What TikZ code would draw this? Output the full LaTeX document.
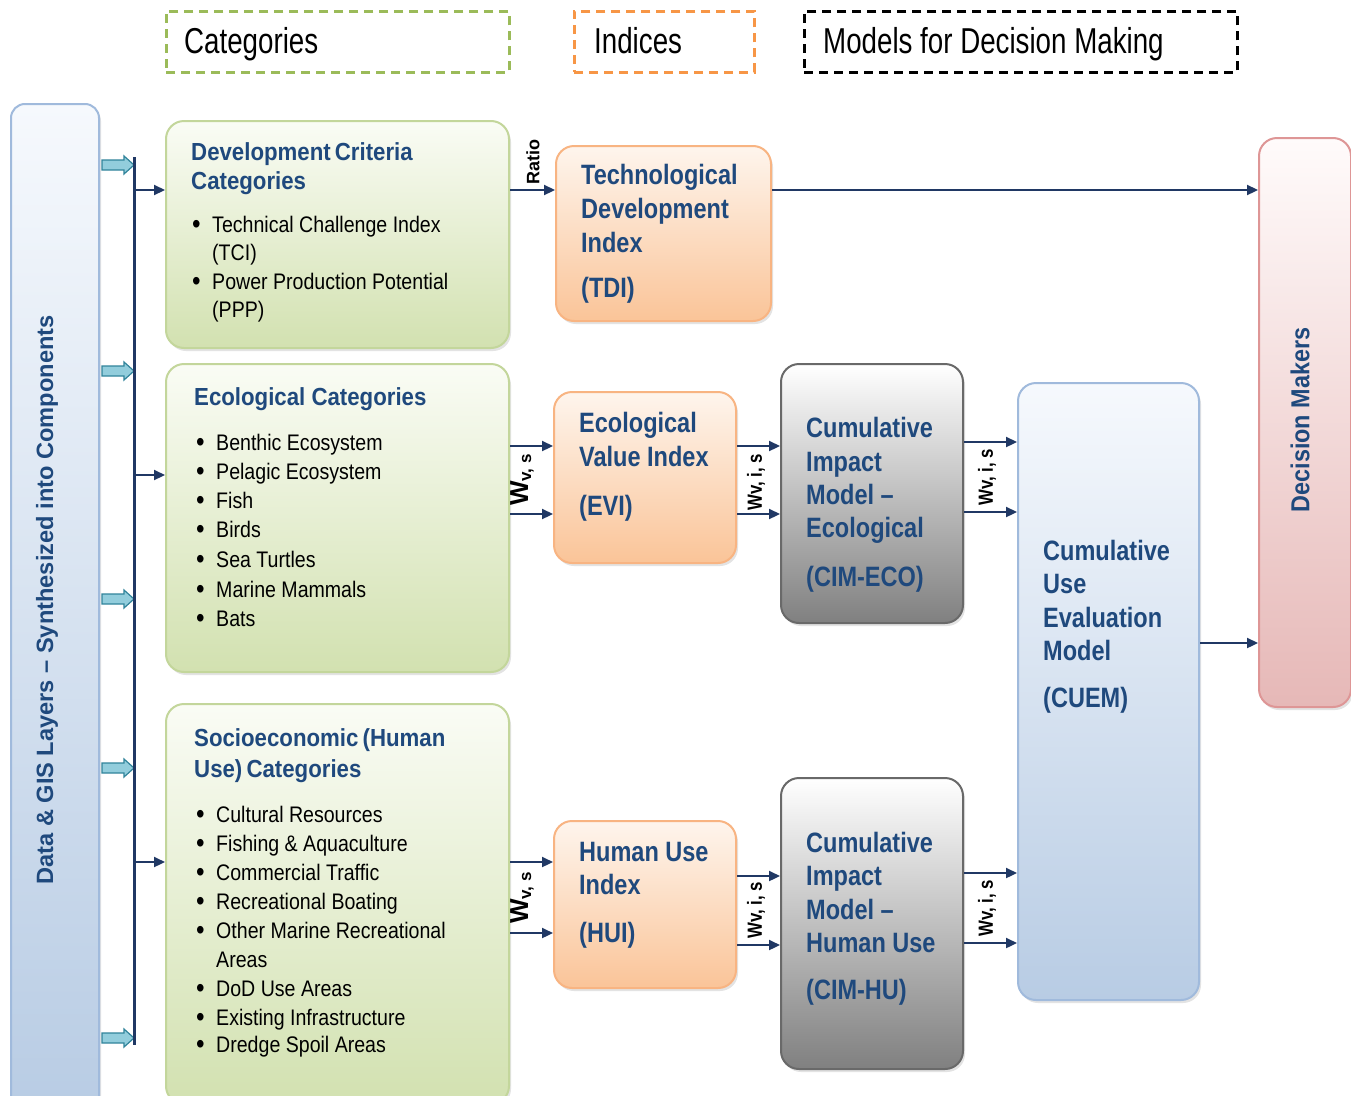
\documentclass[tikz,border=0pt]{standalone}
\usepackage{fontspec}
\setmainfont{Liberation Sans}[FakeStretch=0.82]
\newfontfamily\hdrfont{Liberation Sans}[FakeStretch=0.77]
\newfontfamily\bodyfont{Liberation Sans}[FakeStretch=0.87]
\newfontfamily\ttlfont{Liberation Sans}[FakeStretch=0.9]
\newfontfamily\idxfont{Liberation Sans}[FakeStretch=0.84]
\newfontfamily\plainfont{Liberation Sans}
\usetikzlibrary{arrows.meta,shadows}
\definecolor{navy}{RGB}{32,56,100}
\definecolor{ttl}{RGB}{31,73,125}
\definecolor{gtop}{RGB}{250,252,245}\definecolor{gbot}{RGB}{210,225,176}\definecolor{gbrd}{RGB}{195,214,155}
\definecolor{otop}{RGB}{254,245,237}\definecolor{obot}{RGB}{250,196,152}\definecolor{obrd}{RGB}{248,180,130}
\definecolor{kmid}{RGB}{225,225,225}\definecolor{kbot}{RGB}{128,128,128}\definecolor{kbrd}{RGB}{105,105,105}
\definecolor{btop}{RGB}{246,249,253}\definecolor{bbot}{RGB}{184,204,228}\definecolor{bbrd}{RGB}{160,186,220}
\definecolor{rtop}{RGB}{255,251,251}\definecolor{rbot}{RGB}{230,184,183}\definecolor{rbrd}{RGB}{222,150,150}
\definecolor{acyan}{RGB}{146,205,220}\definecolor{acbrd}{RGB}{49,132,155}
\definecolor{hgreen}{RGB}{155,187,89}\definecolor{horange}{RGB}{247,150,70}
\tikzset{
  box/.style={rounded corners=18pt, line width=2pt, inner sep=0pt, anchor=north west,
    drop shadow={opacity=0.22, shadow xshift=2pt, shadow yshift=-3pt}},
  gbox/.style={box, draw=gbrd, top color=gtop, bottom color=gbot},
  obox/.style={box, draw=obrd, top color=otop, bottom color=obot},
  kbox/.style={box, draw=kbrd, top color=white, middle color=kmid, bottom color=kbot},
  bbox/.style={box, draw=bbrd, top color=btop, bottom color=bbot},
  rbox/.style={box, draw=rbrd, top color=rtop, bottom color=rbot},
  hdr/.style={line width=2.5pt, dash pattern=on 9pt off 6pt, inner sep=0pt, anchor=north west},
  hdrtxt/.style={anchor=base west, inner sep=0pt, font=\hdrfont\fontsize{36}{36}\selectfont},
  arr/.style={navy, line width=2.2pt, -{Triangle[length=11pt,width=10pt]}},
  ttlt/.style={anchor=base west, inner sep=0pt, text=ttl, font=\ttlfont\bfseries\fontsize{24.7}{24.7}\selectfont},
  idx/.style={anchor=base west, inner sep=0pt, text=ttl, font=\idxfont\bfseries\fontsize{28}{28}\selectfont},
  itm/.style={anchor=base west, inner sep=0pt, font=\bodyfont\fontsize{22.5}{22.5}\selectfont},
  wlab/.style={rotate=90, inner sep=0pt, font=\plainfont\bfseries\fontsize{26}{26}\selectfont},
  wlab2/.style={rotate=90, inner sep=0pt, font=\bfseries\fontsize{20.5}{20.5}\selectfont},
  blockarr/.style={fill=acyan, draw=acbrd, line width=1.2pt, line join=miter}
}
\newcommand\bl{\makebox[20pt][l]{\raisebox{-1pt}[0pt][0pt]{\fontsize{28}{28}\selectfont\textbullet}}}
\begin{document}
\begin{tikzpicture}[x=1pt,y=-1pt]
\clip (0,0) rectangle (1351,1095);
\fill[white] (0,0) rectangle (1351,1095);
% header boxes
\node[hdr, draw=hgreen, minimum width=343pt, minimum height=61pt] (hcat) at (165,10) {};
\node[hdr, draw=horange, minimum width=180pt, minimum height=61pt] (hidx) at (573,10) {};
\node[hdr, draw=black, minimum width=433pt, minimum height=61pt] (hmod) at (803,10) {};
\node[hdrtxt] (tcat) at (184,53) {Categories};
\node[hdrtxt] (tidx) at (594,53) {Indices};
\node[hdrtxt] (tmod) at (823,53) {Models for Decision Making};
% left bar
\node[bbox, rounded corners=14pt, minimum width=88pt, minimum height=1010pt] (bar) at (10,103) {};
\node[rotate=90, inner sep=0pt, text=ttl, font=\plainfont\bfseries\fontsize{23.6}{23.6}\selectfont] (bartxt) at (47,600) {Data \& GIS Layers – Synthesized into Components};
% main boxes
\node[gbox, minimum width=343pt, minimum height=227pt] (dev) at (165,120) {};
\node[gbox, minimum width=343pt, minimum height=308pt] (eco) at (165,363) {};
\node[gbox, minimum width=343pt, minimum height=400pt] (soc) at (165,703) {};
\node[obox, minimum width=215pt, minimum height=175pt] (tdi) at (555,145) {};
\node[obox, minimum width=182pt, minimum height=171pt] (evi) at (553,391) {};
\node[obox, minimum width=182pt, minimum height=167pt] (hui) at (553,820) {};
\node[kbox, minimum width=182pt, minimum height=259pt] (cimeco) at (780,363) {};
\node[kbox, minimum width=182pt, minimum height=291pt] (cimhu) at (780,777) {};
\node[bbox, minimum width=181pt, minimum height=617pt] (cuem) at (1017,382) {};
\node[rbox, minimum width=92pt, minimum height=569pt] (dec) at (1258,137) {};
% block arrows
\foreach \yy in {165,371,599,768,1038}
  \draw[blockarr] (102,\yy-5) -- (124,\yy-5) -- (124,\yy-9) -- (134,\yy) -- (124,\yy+9) -- (124,\yy+5) -- (102,\yy+5) -- cycle;
% vertical line
\coordinate (vtop) at (134,157);
\coordinate (vbot) at (134,1045);
\draw[navy, line width=3pt] (vtop) -- (vbot);
\coordinate (v1) at (134,190);
\coordinate (v2) at (134,475);
\coordinate (v3) at (134,862);
\draw[arr] (v1) -- (v1 -| dev.west);
\draw[arr] (v2) -- (v2 -| eco.west);
\draw[arr] (v3) -- (v3 -| soc.west);
% connectors
\draw[arr] (dev.east |- 0,190) -- (tdi.west |- 0,190);
\draw[arr] (tdi.east |- 0,190) -- (dec.west |- 0,190);
\draw[arr] (eco.east |- 0,446) -- (evi.west |- 0,446);
\draw[arr] (eco.east |- 0,514) -- (evi.west |- 0,514);
\draw[arr] (evi.east |- 0,446) -- (cimeco.west |- 0,446);
\draw[arr] (evi.east |- 0,514) -- (cimeco.west |- 0,514);
\draw[arr] (cimeco.east |- 0,442) -- (cuem.west |- 0,442);
\draw[arr] (cimeco.east |- 0,512) -- (cuem.west |- 0,512);
\draw[arr] (soc.east |- 0,862) -- (hui.west |- 0,862);
\draw[arr] (soc.east |- 0,933) -- (hui.west |- 0,933);
\draw[arr] (hui.east |- 0,876) -- (cimhu.west |- 0,876);
\draw[arr] (hui.east |- 0,945) -- (cimhu.west |- 0,945);
\draw[arr] (cimhu.east |- 0,873) -- (cuem.west |- 0,873);
\draw[arr] (cimhu.east |- 0,943) -- (cuem.west |- 0,943);
\draw[arr] (cuem.east |- 0,643) -- (dec.west |- 0,643);
% connector labels
\node[rotate=90, inner sep=0pt, font=\plainfont\bfseries\fontsize{18}{18}\selectfont] (lratio) at (533,162) {Ratio};
\node[wlab] (lw1) at (522,480) {W\raisebox{-3pt}{\fontsize{17}{17}\selectfont v, s}};
\node[wlab] (lw2) at (522,898) {W\raisebox{-3pt}{\fontsize{17}{17}\selectfont v, s}};
\node[wlab2] (lw3) at (756,482) {Wv, i, s};
\node[wlab2] (lw4) at (756,910) {Wv, i, s};
\node[wlab2] (lw5) at (987,477) {Wv, i, s};
\node[wlab2] (lw6) at (987,908) {Wv, i, s};
% dev text
\node[ttlt] (dt1) at (191,160) {Development\hspace{-2pt} Criteria};
\node[ttlt] (dt2) at (191,189) {Categories};
\node[itm] (d1) at (192,232) {\bl Technical Challenge Index};
\node[itm] (d2) at (212,260) {(TCI)};
\node[itm] (d3) at (192,289) {\bl Power Production Potential};
\node[itm] (d4) at (212,317) {(PPP)};
% eco text
\node[ttlt] (et1) at (194,405) {Ecological Categories};
\foreach \t/\yy [count=\i] in {Benthic Ecosystem/450, Pelagic Ecosystem/479, Fish/508, Birds/537, Sea Turtles/567, Marine Mammals/597, Bats/626}
  \node[itm] (e\i) at (196,\yy) {\bl\t};
% socio text
\node[ttlt] (st1) at (194,746) {Socioeconomic\hspace{-2pt} (Human};
\node[ttlt] (st2) at (194,777) {Use)\hspace{-2pt} Categories};
\foreach \t/\yy [count=\i] in {Cultural Resources/822, Fishing \& Aquaculture/851, Commercial Traffic/880, Recreational Boating/909, Other Marine Recreational/938, DoD Use Areas/996, Existing Infrastructure/1025, Dredge Spoil Areas/1052}
  \node[itm] (s\i) at (196,\yy) {\bl\t};
\node[itm] (s9) at (216,967) {Areas};
% TDI
\node[idx] (tt1) at (581,184) {Technological};
\node[idx] (tt2) at (581,218) {Development};
\node[idx] (tt3) at (581,252) {Index};
\node[idx] (tt4) at (581,297) {(TDI)};
% EVI
\node[idx] (ev1) at (579,432) {Ecological};
\node[idx] (ev2) at (579,466) {Value Index};
\node[idx] (ev3) at (579,515) {(EVI)};
% HUI
\node[idx] (hu1) at (579,861) {Human Use};
\node[idx] (hu2) at (579,894) {Index};
\node[idx] (hu3) at (579,942) {(HUI)};
% CIM-ECO
\node[idx] (ce1) at (806,437) {Cumulative};
\node[idx] (ce2) at (806,471) {Impact};
\node[idx] (ce3) at (806,504) {Model –};
\node[idx] (ce4) at (806,537) {Ecological};
\node[idx] (ce5) at (806,586) {(CIM-ECO)};
% CIM-HU
\node[idx] (ch1) at (806,852) {Cumulative};
\node[idx] (ch2) at (806,885) {Impact};
\node[idx] (ch3) at (806,919) {Model –};
\node[idx] (ch4) at (806,952) {Human Use};
\node[idx] (ch5) at (806,999) {(CIM-HU)};
% CUEM
\node[idx] (cu1) at (1043,560) {Cumulative};
\node[idx] (cu2) at (1043,593) {Use};
\node[idx] (cu3) at (1043,627) {Evaluation};
\node[idx] (cu4) at (1043,660) {Model};
\node[idx] (cu5) at (1043,707) {(CUEM)};
% decision makers
\node[rotate=90, inner sep=0pt, text=ttl, font=\ttlfont\bfseries\fontsize{26}{26}\selectfont] (dectxt) at (1300,420) {Decision Makers};
\end{tikzpicture}
\end{document}
